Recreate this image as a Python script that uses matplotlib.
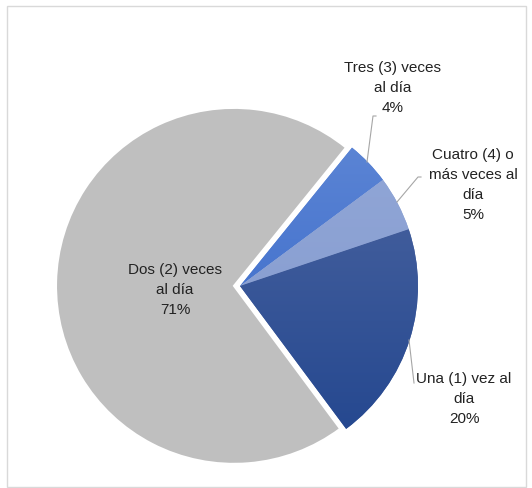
import numpy as np
import matplotlib.pyplot as plt
from matplotlib.patches import Rectangle

labels = ["Tres (3) veces\nal día", "Cuatro (4) o\nmás veces al\ndía",
          "Una (1) vez al\ndía", "Dos (2) veces\nal día"]
shares = [4, 5, 20, 71]
top_colors = ["#6088d6", "#93a8d8", "#5068a2", "#bfbfbf"]
bottom_colors = ["#2f62c6", "#8198cc", "#21458e", "#bfbfbf"]

W, H = 532, 488
fig = plt.figure(figsize=(W / 100, H / 100), dpi=100)
ax = fig.add_axes([0, 0, 1, 1])

# pie drawn in pixel units; explode is absolute here
cx, cy, r = 240, H - 286, 178
wedges, _ = ax.pie(shares, explode=[0, 0, 0, 6], colors=top_colors, startangle=51,
                   counterclock=False, center=(cx, cy), radius=r,
                   wedgeprops=dict(linewidth=0))
wedges[3].set_edgecolor("white")
wedges[3].set_linewidth(1.5)
ax.set_xlim(0, W)
ax.set_ylim(0, H)
ax.axis("off")

# vertical gradient fill for the blue slices
for w, c1, c2 in zip(wedges, top_colors, bottom_colors):
    if c1 == c2:
        continue
    rgb1 = np.array(plt.matplotlib.colors.to_rgb(c1))
    rgb2 = np.array(plt.matplotlib.colors.to_rgb(c2))
    t = np.linspace(0, 1, 256)[:, None]
    grad = rgb1 + (rgb2 - rgb1) * t
    img = ax.imshow(grad[:, None, :].repeat(2, axis=1), extent=(cx - r, cx + r, cy - r, cy + r),
                    aspect="auto", origin="upper", zorder=w.get_zorder() + 0.1)
    img.set_clip_path(w)
ax.set_xlim(0, W)
ax.set_ylim(0, H)

font = ["Liberation Sans Narrow", "Liberation Sans", "DejaVu Sans"]
txt = dict(ha="center", va="center", fontsize=11, color="#222222",
           family=font, linespacing=1.55, zorder=5)
ax.text(393, H - 88, labels[0] + "\n4%", **txt)
ax.text(473, H - 185, labels[1] + "\n5%", **txt)
ax.text(464, H - 399, labels[2] + "\n20%", **txt)
ax.text(175, H - 290, labels[3] + "\n71%", **txt)

# leader lines
lc = dict(color="#a6a6a6", lw=0.8, zorder=4)
ax.plot([376, 373, 367], [H - 116, H - 116, H - 162], **lc)
ax.plot([421, 418, 397], [H - 177, H - 177, H - 202], **lc)
ax.plot([414, 409], [H - 383, H - 340], **lc)

ax.add_patch(Rectangle((7, 1), 519, H - 7, fill=False, edgecolor="#d9d9d9", lw=1))

fig.savefig("out.png", dpi=100)
